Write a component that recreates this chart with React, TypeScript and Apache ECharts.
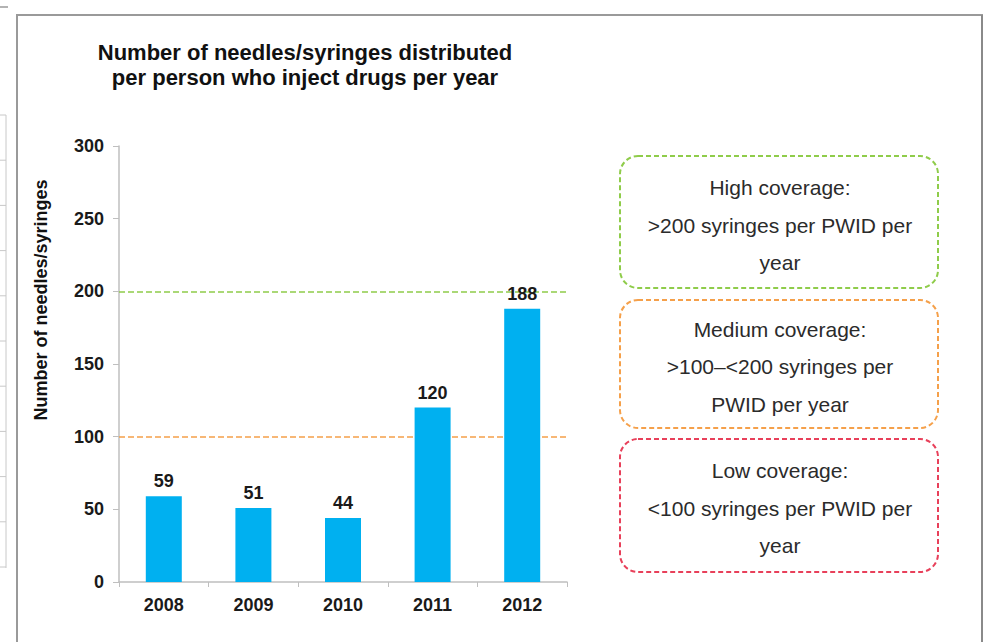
import React, { useEffect, useRef } from "react";
import * as echarts from "echarts";

const years = ["2008", "2009", "2010", "2011", "2012"];
const syringesPerPwid = [59, 51, 44, 120, 188];
const highThreshold = 200;
const mediumThreshold = 100;
const yTicks = { min: 0, max: 300, interval: 50 };

const titleLines = [
  "Number of needles/syringes distributed",
  "per person who inject drugs per year",
];
const yAxisName = "Number of needles/syringes";

const coverageBoxes = [
  { color: "#8fcc4a", lines: ["High coverage:", ">200 syringes per PWID per", "year"] },
  { color: "#f5a04a", lines: ["Medium coverage:", ">100–<200 syringes per", "PWID per year"] },
  { color: "#e8405a", lines: ["Low coverage:", "<100 syringes per PWID per", "year"] },
];

const FONT = "'Liberation Sans', Arial, sans-serif";

export default function App() {
  const ref = useRef<HTMLDivElement>(null);

  useEffect(() => {
    document.body.style.margin = "0";
    if (!ref.current) return;
    const chart = echarts.init(ref.current, undefined, { renderer: "svg" });

    const boxGeo = [
      { x: 620, y: 156, w: 318, h: 132, textY: [187, 225, 262] },
      { x: 620, y: 300, w: 318, h: 128, textY: [329, 366, 404] },
      { x: 620, y: 439, w: 318, h: 133, textY: [470, 508, 545] },
    ];

    const graphics: any[] = [];
    graphics.push(
      { type: "line", shape: { x1: 16, y1: 15, x2: 983, y2: 15 }, style: { stroke: "#9a9a9a", lineWidth: 2 } },
      { type: "line", shape: { x1: 17, y1: 15, x2: 17, y2: 642 }, style: { stroke: "#9a9a9a", lineWidth: 2 } },
      { type: "line", shape: { x1: 982, y1: 15, x2: 982, y2: 642 }, style: { stroke: "#8a8a8a", lineWidth: 2 } },
      { type: "line", shape: { x1: 0, y1: 7, x2: 8, y2: 7 }, style: { stroke: "#9a9a9a", lineWidth: 1.5 } },
      { type: "line", shape: { x1: 6, y1: 115, x2: 6, y2: 568 }, style: { stroke: "#c8c8c8", lineWidth: 1 } }
    );
    for (let i = 0; i <= 10; i++) {
      const yy = 115 + i * 45.2;
      graphics.push({ type: "line", shape: { x1: 0, y1: yy, x2: 6, y2: yy }, style: { stroke: "#c8c8c8", lineWidth: 1 } });
    }
    titleLines.forEach((t, i) => {
      graphics.push({
        type: "text",
        x: 305,
        y: 52 + i * 25,
        style: { text: t, font: `bold 22px ${FONT}`, fill: "#111", textAlign: "center", textVerticalAlign: "middle" },
      });
    });
    graphics.push({
      type: "text",
      x: 41,
      y: 300,
      rotation: Math.PI / 2,
      style: { text: yAxisName, font: `bold 18px ${FONT}`, fill: "#111", textAlign: "center", textVerticalAlign: "middle" },
    });
    coverageBoxes.forEach((b, i) => {
      const g = boxGeo[i];
      graphics.push({
        type: "rect",
        shape: { x: g.x, y: g.y, width: g.w, height: g.h, r: 18 },
        style: { fill: "none", stroke: b.color, lineWidth: 2, lineDash: [5, 3] },
      });
      b.lines.forEach((l, j) => {
        graphics.push({
          type: "text",
          x: g.x + g.w / 2 + 1,
          y: g.textY[j],
          style: { text: l, font: `21px ${FONT}`, fill: "#2b2b2b", textAlign: "center", textVerticalAlign: "middle" },
        });
      });
    });

    chart.setOption({
      animation: false,
      backgroundColor: "#ffffff",
      grid: { left: 119, top: 146, right: 423, bottom: 60, containLabel: false },
      xAxis: {
        type: "category",
        data: years,
        axisLine: { show: true, lineStyle: { color: "#bfbfbf", width: 1.5 } },
        axisTick: { show: true, length: 5, lineStyle: { color: "#bfbfbf" } },
        axisLabel: { fontFamily: FONT, fontWeight: "bold", fontSize: 18, color: "#1a1a1a", margin: 14 },
      },
      yAxis: {
        type: "value",
        min: yTicks.min,
        max: yTicks.max,
        interval: yTicks.interval,
        axisLine: { show: true, lineStyle: { color: "#bfbfbf", width: 1.5 } },
        axisTick: { show: true, length: 6, lineStyle: { color: "#bfbfbf" } },
        splitLine: { show: false },
        axisLabel: { fontFamily: FONT, fontWeight: "bold", fontSize: 18, color: "#1a1a1a", margin: 15 },
      },
      series: [
        {
          type: "bar",
          data: syringesPerPwid,
          barWidth: 36,
          itemStyle: { color: "#00b0f0" },
          label: {
            show: true,
            position: "top",
            distance: 6,
            fontFamily: FONT,
            fontWeight: "bold",
            fontSize: 18,
            color: "#1a1a1a",
          },
          markLine: {
            silent: true,
            symbol: "none",
            label: { show: false },
            z: 1,
            data: [
              { yAxis: highThreshold, lineStyle: { color: "#8fcc4a", type: [6, 3], width: 1.5 } },
              { yAxis: mediumThreshold, lineStyle: { color: "#f5a04a", type: [6, 3], width: 1.5 } },
            ],
          },
        },
      ],
      graphic: graphics,
    });

    return () => chart.dispose();
  }, []);

  return <div ref={ref} style={{ width: 990, height: 642, position: "absolute", left: 0, top: 0 }} />;
}
